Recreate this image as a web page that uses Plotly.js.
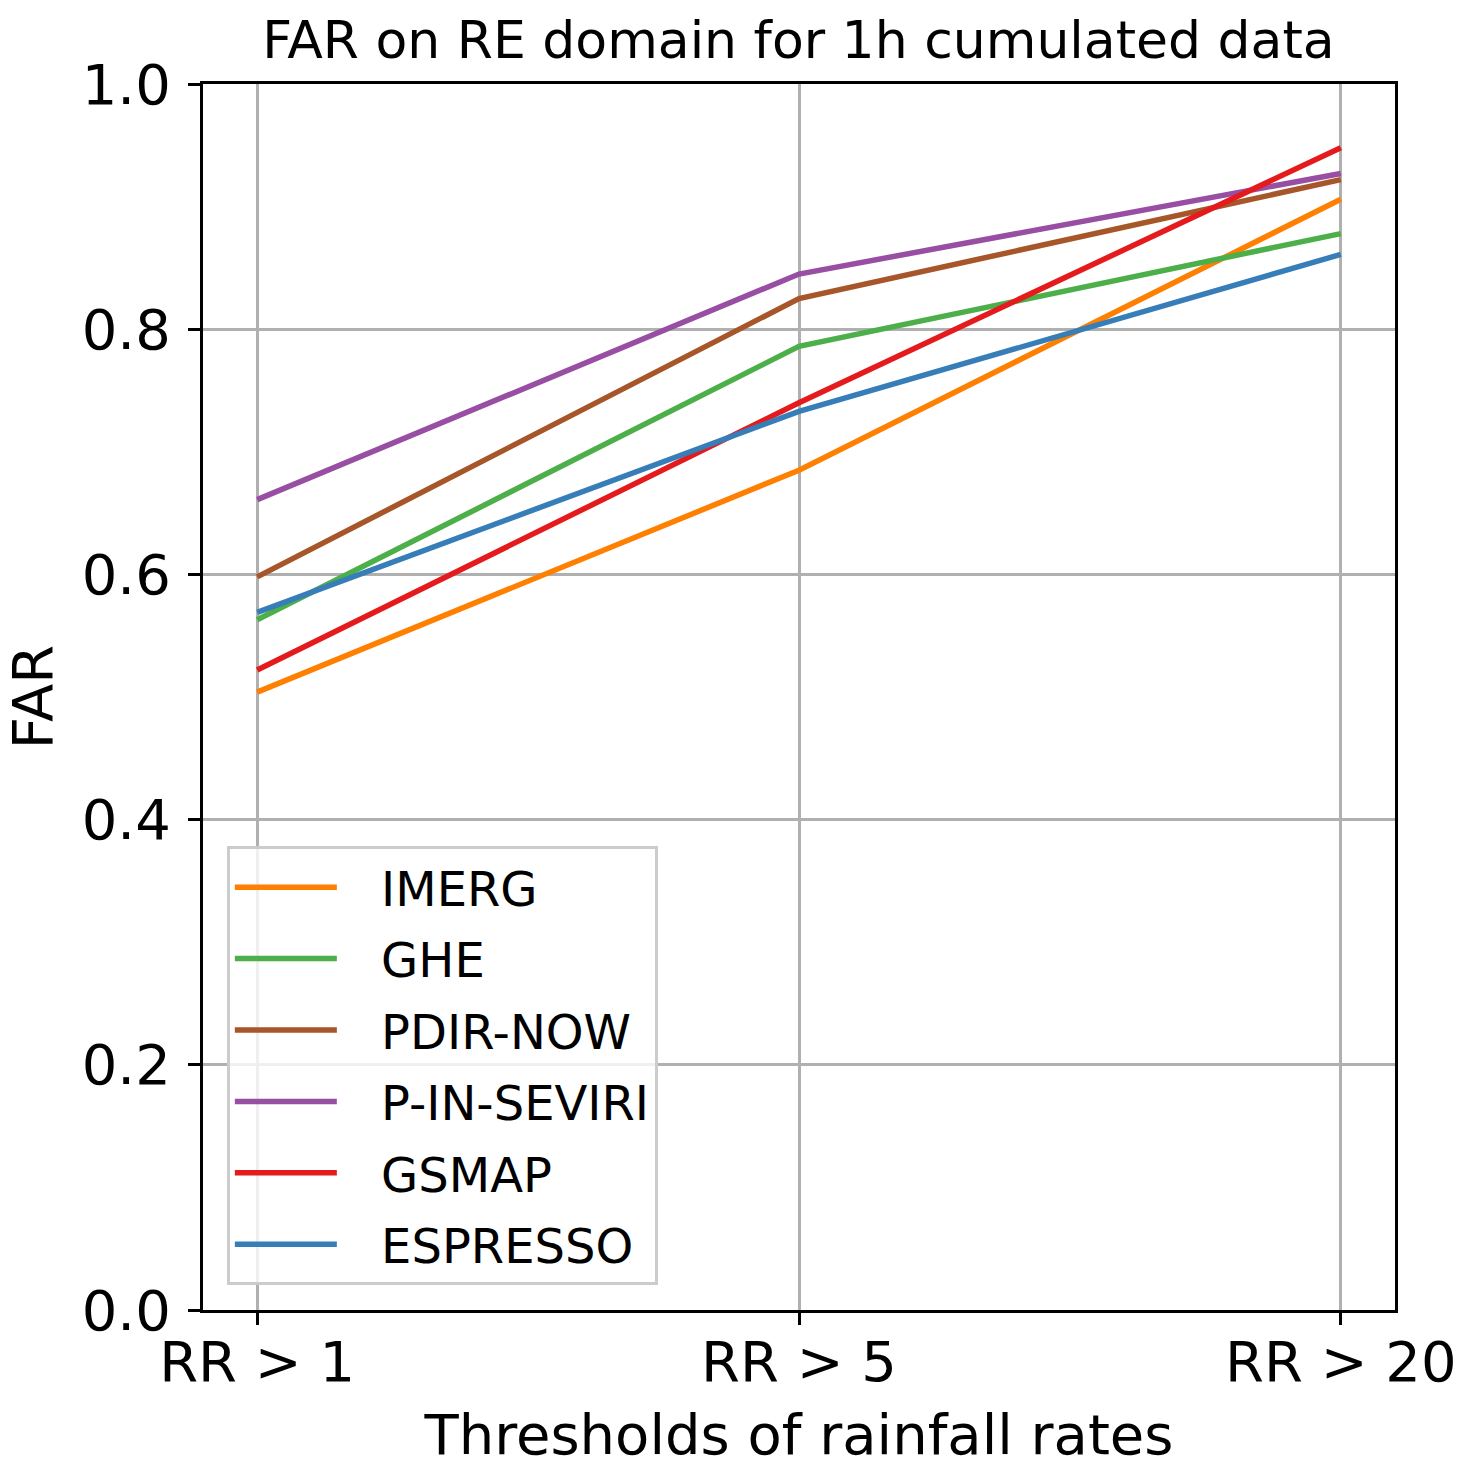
<!DOCTYPE html>
<html><head><meta charset="utf-8">
<script src="https://cdn.plot.ly/plotly-3.0.1.min.js"></script>
<style>html,body{margin:0;padding:0;background:#fff}</style>
</head><body>
<div id="chart" style="width:1465px;height:1470px"></div>
<script>
const categories = ["RR > 1", "RR > 5", "RR > 20"];
const seriesNames = ["IMERG", "GHE", "PDIR-NOW", "P-IN-SEVIRI", "GSMAP", "ESPRESSO"];
const seriesColors = ["#ff7f00", "#4daf4a", "#a65628", "#984ea3", "#e41a1c", "#377eb8"];
const imerg = [0.504, 0.685, 0.906];
const ghe = [0.563, 0.786, 0.878];
const pdirNow = [0.598, 0.825, 0.922];
const pInSeviri = [0.661, 0.845, 0.927];
const gsmap = [0.522, 0.740, 0.948];
const espresso = [0.569, 0.733, 0.861];
const seriesValues = [imerg, ghe, pdirNow, pInSeviri, gsmap, espresso];

const traces = seriesNames.map((n, i) => ({
  x: [0, 1, 2], y: seriesValues[i], name: '\u2002\u00a0' + n, legendgroup: 'g' + i,
  type: 'scatter', mode: 'lines',
  line: {color: seriesColors[i], width: 5.5}
}));
const font = 'DejaVu Sans, sans-serif';
const layout = {
  width: 1465, height: 1470,
  margin: {l: 203, r: 70, t: 84, b: 160},
  paper_bgcolor: '#fff', plot_bgcolor: '#fff',
  font: {family: font, color: '#000'},
  title: {text: 'FAR on RE domain for 1h cumulated data', font: {size: 52, family: font}, x: 0.545, xanchor: 'center', y: 0.973, yanchor: 'middle'},
  xaxis: {
    range: [-0.1, 2.1], tickvals: [0, 1, 2], ticktext: categories,
    showline: true, linecolor: '#000', linewidth: 3, mirror: true,
    ticks: 'outside', ticklen: 12, tickwidth: 3, tickcolor: '#000',
    showgrid: true, gridcolor: '#b0b0b0', gridwidth: 3, zeroline: false,
    tickfont: {size: 56, family: font}, ticklabelstandoff: -11,
    title: {text: 'Thresholds of rainfall rates', font: {size: 56, family: font}, standoff: 22}
  },
  yaxis: {
    range: [0, 1], tickvals: [0, 0.2, 0.4, 0.6, 0.8, 1.0], ticktext: ['0.0','0.2','0.4','0.6','0.8','1.0'],
    showline: true, linecolor: '#000', linewidth: 3, mirror: true,
    ticks: 'outside', ticklen: 12, tickwidth: 3, tickcolor: '#000',
    showgrid: true, gridcolor: '#b0b0b0', gridwidth: 3, zeroline: false,
    tickfont: {size: 56, family: font}, ticklabelstandoff: 6,
    title: {text: 'FAR', font: {size: 56, family: font}, standoff: 16}
  },
  showlegend: true,
  legend: {
    x: 0.02, y: 0.02, xanchor: 'left', yanchor: 'bottom',
    bgcolor: 'rgba(255,255,255,0.8)', bordercolor: '#cccccc', borderwidth: 3,
    font: {size: 48, family: font}, itemwidth: 102, tracegroupgap: 6
  }
};
Plotly.newPlot('chart', traces, layout, {displayModeBar: false, staticPlot: true});
</script>
</body></html>
